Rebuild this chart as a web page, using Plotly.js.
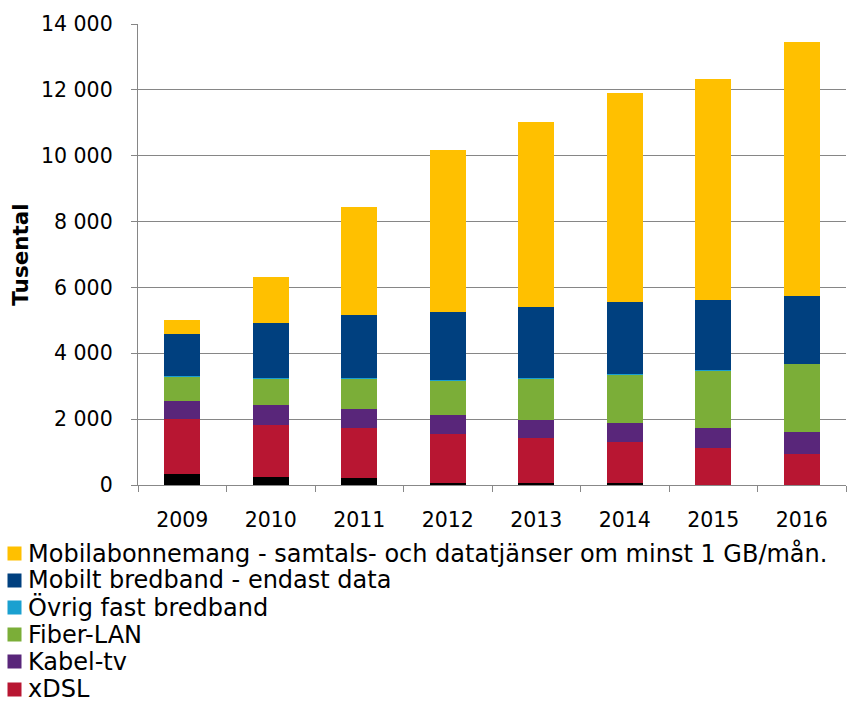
<!DOCTYPE html>
<html>
<head>
<meta charset="utf-8">
<script src="https://cdn.plot.ly/plotly-3.0.1.min.js"></script>
<style>html,body{margin:0;padding:0;background:#fff;}#chart{width:847px;height:702px;}</style>
</head>
<body>
<div id="chart"></div>
<script>
const years = ["2009","2010","2011","2012","2013","2014","2015","2016"];
const uppringt = [325, 234, 204, 70, 70, 52, 5, 0];
const xdsl = [1680, 1589, 1519, 1471, 1349, 1245, 1110, 942];
const kabeltv = [557, 599, 595, 577, 565, 596, 626, 678];
const fiberlan = [711, 799, 903, 1042, 1237, 1449, 1732, 2048];
const ovrigFast = [35, 35, 30, 30, 30, 25, 25, 20];
const mobiltBredband = [1271, 1676, 1924, 2076, 2167, 2203, 2133, 2064];
const mobilabonnemang = [435, 1397, 3272, 4913, 5603, 6320, 6696, 7700];
const yTicks = [0, 2000, 4000, 6000, 8000, 10000, 12000, 14000];

const series = [
  {name: "Uppringt", y: uppringt, color: "#000000", legend: false},
  {name: "xDSL", y: xdsl, color: "#B81632", legend: true},
  {name: "Kabel-tv", y: kabeltv, color: "#59267A", legend: true},
  {name: "Fiber-LAN", y: fiberlan, color: "#7BAE38", legend: true},
  {name: "Övrig fast bredband", y: ovrigFast, color: "#1AA0D0", legend: true},
  {name: "Mobilt bredband - endast data", y: mobiltBredband, color: "#00407F", legend: true},
  {name: "Mobilabonnemang - samtals- och datatjänser om minst 1 GB/mån.", y: mobilabonnemang, color: "#FFC000", legend: true}
];

const data = series.map(s => ({
  type: "bar",
  x: years,
  y: s.y,
  name: s.name,
  marker: {color: s.color, line: {width: 0}},
  hoverinfo: "x+y+name"
}));

// Legend drawn below the plot (reversed order, top = last stacked series)
const W = 847, H = 702;
const M = {l: 138, r: 1, t: 24, b: 217};
const plotW = W - M.l - M.r, plotH = H - M.t - M.b;
const px2x = p => (p - M.l) / plotW;
const py2y = p => (H - M.b - p) / plotH;

const legendItems = series.filter(s => s.legend).slice().reverse();
const annotations = [];
legendItems.forEach((s, i) => {
  const cy = 553 + i * 27.2;
  annotations.push({
    xref: "paper", yref: "paper",
    x: px2x(14.5), y: py2y(cy),
    xanchor: "center", yanchor: "middle",
    text: " ", showarrow: false,
    width: 13, height: 13, borderpad: 0,
    bgcolor: s.color,
    font: {size: 6}
  });
  annotations.push({
    xref: "paper", yref: "paper",
    x: px2x(27), y: py2y(cy),
    xanchor: "left", yanchor: "middle",
    text: s.name, showarrow: false,
    borderpad: 0,
    font: {size: 24, color: "#000000"}
  });
});

const layout = {
  width: W,
  height: H,
  margin: {l: M.l, r: M.r, t: M.t, b: M.b, autoexpand: false},
  paper_bgcolor: "#ffffff",
  plot_bgcolor: "#ffffff",
  barmode: "stack",
  bargap: 0.59,
  separators: ", ",
  showlegend: false,
  font: {family: "DejaVu Sans, Verdana, sans-serif", size: 20, color: "#000000"},
  xaxis: {
    type: "category",
    showgrid: false,
    showline: true,
    linecolor: "#888888",
    linewidth: 1,
    ticks: "outside",
    tickson: "boundaries",
    ticklen: 6,
    tickcolor: "#888888",
    ticklabelstandoff: 16,
    tickangle: 0,
    tickfont: {size: 20.5, color: "#000000"}
  },
  yaxis: {
    range: [0, 14000],
    tickvals: yTicks,
    tickformat: ",d",
    showgrid: true,
    gridcolor: "#868686",
    gridwidth: 1.2,
    showline: true,
    linecolor: "#868686",
    linewidth: 1.2,
    ticks: "outside",
    ticklen: 6,
    tickcolor: "#868686",
    ticklabelstandoff: 14,
    zeroline: false,
    tickfont: {size: 20.5, color: "#000000"},
    title: {text: "<b>Tusental</b>", font: {size: 21.5, color: "#000000"}, standoff: 6}
  },
  annotations: annotations
};

Plotly.newPlot("chart", data, layout, {displayModeBar: false, staticPlot: true});
</script>
</body>
</html>
